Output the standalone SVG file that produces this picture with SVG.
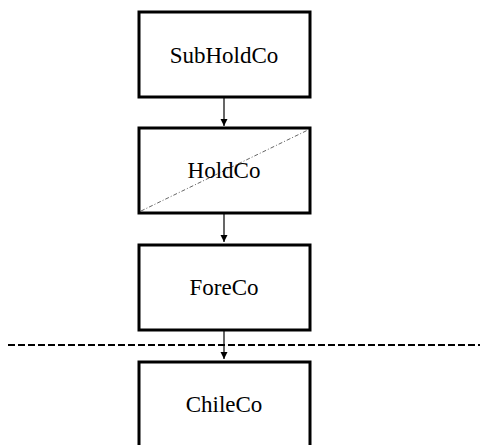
<svg xmlns="http://www.w3.org/2000/svg" width="480" height="445" viewBox="0 0 480 445">
  <style>
    .box { fill: #ffffff; stroke: #000000; stroke-width: 3; }
    .label { font-family: "Liberation Serif", "Times New Roman", serif; font-size: 23px; fill: #000000; text-anchor: middle; }
    .link { stroke: #000000; stroke-width: 1.2; fill: none; }
    .diag { stroke: #666666; stroke-width: 1; stroke-dasharray: 4 2 1 2; }
    .border { stroke: #000000; stroke-width: 1.8; stroke-dasharray: 7 3; }
  </style>
  <defs>
    <marker id="arrow" viewBox="0 0 10 10" refX="10" refY="5" markerWidth="7" markerHeight="8" orient="auto" markerUnits="userSpaceOnUse">
      <path d="M0,0 L10,5 L0,10 Z" fill="#000000"/>
    </marker>
  </defs>

  <rect width="480" height="445" fill="#ffffff"/>

  <!-- jurisdiction boundary -->
  <line class="border" x1="8" y1="345" x2="480" y2="345"/>

  <g id="connectors">
    <line class="link" x1="224" y1="98" x2="224" y2="126" marker-end="url(#arrow)"/>
    <line class="link" x1="224" y1="214" x2="224" y2="242" marker-end="url(#arrow)"/>
    <line class="link" x1="224" y1="331" x2="224" y2="359" marker-end="url(#arrow)"/>
  </g>

  <g id="subholdco">
    <rect class="box" x="139" y="12" width="171" height="85"/>
    <text class="label" x="224" y="63">SubHoldCo</text>
  </g>

  <g id="holdco">
    <rect class="box" x="139" y="128" width="171" height="85"/>
    <line class="diag" x1="141" y1="211" x2="308" y2="130"/>
    <text class="label" x="224" y="178">HoldCo</text>
  </g>

  <g id="foreco">
    <rect class="box" x="139" y="245" width="171" height="85"/>
    <text class="label" x="224" y="295">ForeCo</text>
  </g>

  <g id="chileco">
    <rect class="box" x="139" y="362" width="171" height="95"/>
    <text class="label" x="224" y="412">ChileCo</text>
  </g>
</svg>
